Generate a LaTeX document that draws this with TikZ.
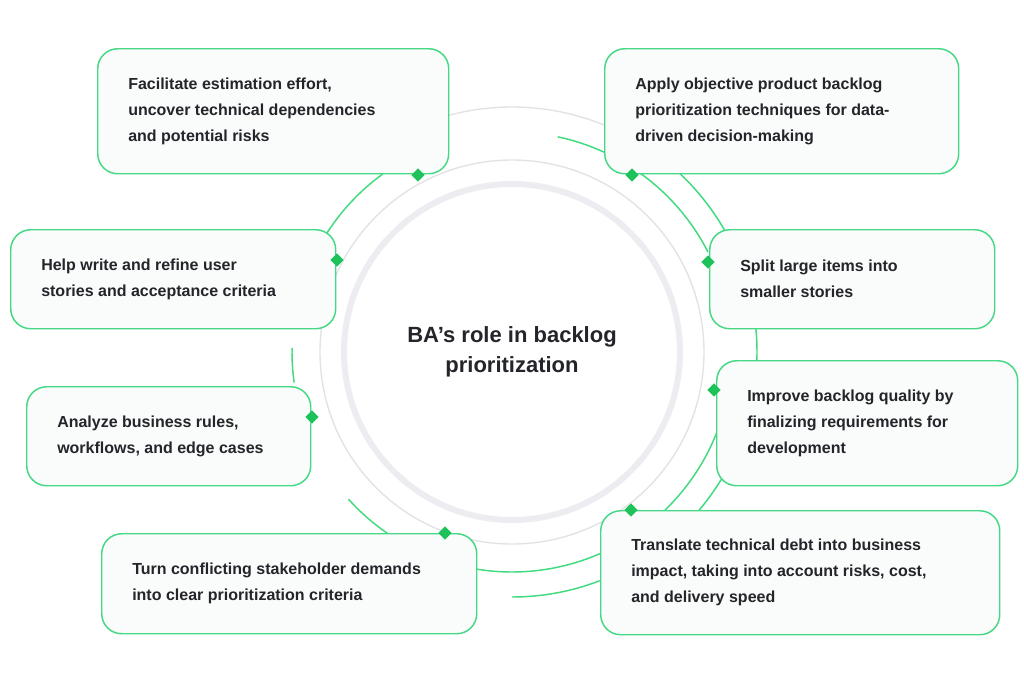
\documentclass[tikz,border=0pt]{standalone}
\usepackage{fontspec}
\setmainfont{Liberation Sans}
\begin{document}
\definecolor{gline}{HTML}{3FDB7E}
\definecolor{gdark}{HTML}{1EC25A}
\definecolor{gbox}{HTML}{45D985}
\definecolor{bfill}{HTML}{F9FCFA}
\definecolor{txt}{HTML}{24242A}
\definecolor{gray1}{HTML}{E2E2E6}
\definecolor{gray2}{HTML}{EDEDF1}
\begin{tikzpicture}[x=0.75pt,y=-0.75pt,
  box/.style={draw=gbox,line width=1.1pt,fill=bfill,rounded corners=15pt,anchor=north west,inner sep=0pt,align=left,text=txt,font=\bfseries\fontsize{12}{19.5}\selectfont},
  dia/.style={fill=gdark,minimum size=7pt,inner sep=0pt,rotate=45,draw=none},
  garc/.style={draw=gline,line width=1.1pt},
  grarc/.style={draw=gray1,line width=1pt}]
\useasboundingbox (0,0) rectangle (1024,683);
\fill[white] (0,0) rectangle (1024,683);
\coordinate (c) at (512,352);
% gray
\draw[gray2,line width=4.5pt] (c) circle[radius=168];
\draw[grarc] (c) circle[radius=192];
\draw[grarc] ([shift={(-106:245)}]c) arc[start angle=-106,end angle=-66,radius=245];
% green r=220
\draw[garc] ([shift={(-78:220)}]c) arc[start angle=-78,end angle=-27,radius=220];
\draw[garc] ([shift={(-150:220)}]c) arc[start angle=-150,end angle=-126,radius=220];
\draw[garc] ([shift={(15:220)}]c) arc[start angle=15,end angle=46,radius=220];
\draw[garc] ([shift={(60:220)}]c) arc[start angle=60,end angle=105,radius=220];
\draw[garc] ([shift={(124:220)}]c) arc[start angle=124,end angle=138,radius=220];
\draw[garc] ([shift={(172:220)}]c) arc[start angle=172,end angle=181,radius=220];
% green r=245
\draw[garc] ([shift={(-48:245)}]c) arc[start angle=-48,end angle=-28,radius=245];
\draw[garc] ([shift={(-8:245)}]c) arc[start angle=-8,end angle=2,radius=245];
\draw[garc] ([shift={(28:245)}]c) arc[start angle=28,end angle=41,radius=245];
\draw[garc] ([shift={(69:245)}]c) arc[start angle=69,end angle=90,radius=245];
% boxes
\newcommand\bx[6]{\node[box,minimum width=#4*0.75pt,minimum height=#5*0.75pt,text width=#4*0.75pt-46.5pt] (#1) at (#2,#3) {\hspace*{0pt}#6};}
\newcommand\bxx[6]{\node[box,minimum width=#4*0.75pt,minimum height=#5*0.75pt,text width=#4*0.75pt-23.25pt] (#1) at (#2,#3) {};
  \node[anchor=west,inner sep=0pt,align=left,text=txt,font=\bfseries\fontsize{12}{19.5}\selectfont] (#1t) at ([xshift=23.25pt]#1.west) {#6};}
\bxx{b1}{97}{48}{351}{125}{Facilitate estimation effort,\\uncover technical dependencies\\and potential risks}
\bxx{b2}{604}{48}{354}{125}{Apply objective product backlog\\prioritization techniques for data-\\driven decision-making}
\bxx{b3}{10}{229}{325}{99}{Help write and refine user\\stories and acceptance criteria}
\bxx{b4}{709}{229}{285}{99}{Split large items into\\smaller stories}
\bxx{b5}{26}{386}{284}{99}{Analyze business rules,\\workflows, and edge cases}
\bxx{b6}{716}{360}{301}{125}{Improve backlog quality by\\finalizing requirements for\\development}
\bxx{b7}{101}{533}{375}{100}{Turn conflicting stakeholder demands\\into clear prioritization criteria}
\bxx{b8}{600}{510}{399}{124}{Translate technical debt into business\\impact, taking into account risks, cost,\\and delivery speed}
% diamonds
\node[dia] (d1) at (418,175) {};
\node[dia] (d2) at (337,260) {};
\node[dia] (d3) at (312,417) {};
\node[dia] (d4) at (445,533) {};
\node[dia] (d5) at (632,175) {};
\node[dia] (d6) at (708,262) {};
\node[dia] (d7) at (714,390) {};
\node[dia] (d8) at (631,510) {};
% title
\node[align=center,text=txt,font=\bfseries\fontsize{16.5}{22.5}\selectfont] (t) at (c) {BA's role in backlog\\prioritization};
\end{tikzpicture}
\end{document}
